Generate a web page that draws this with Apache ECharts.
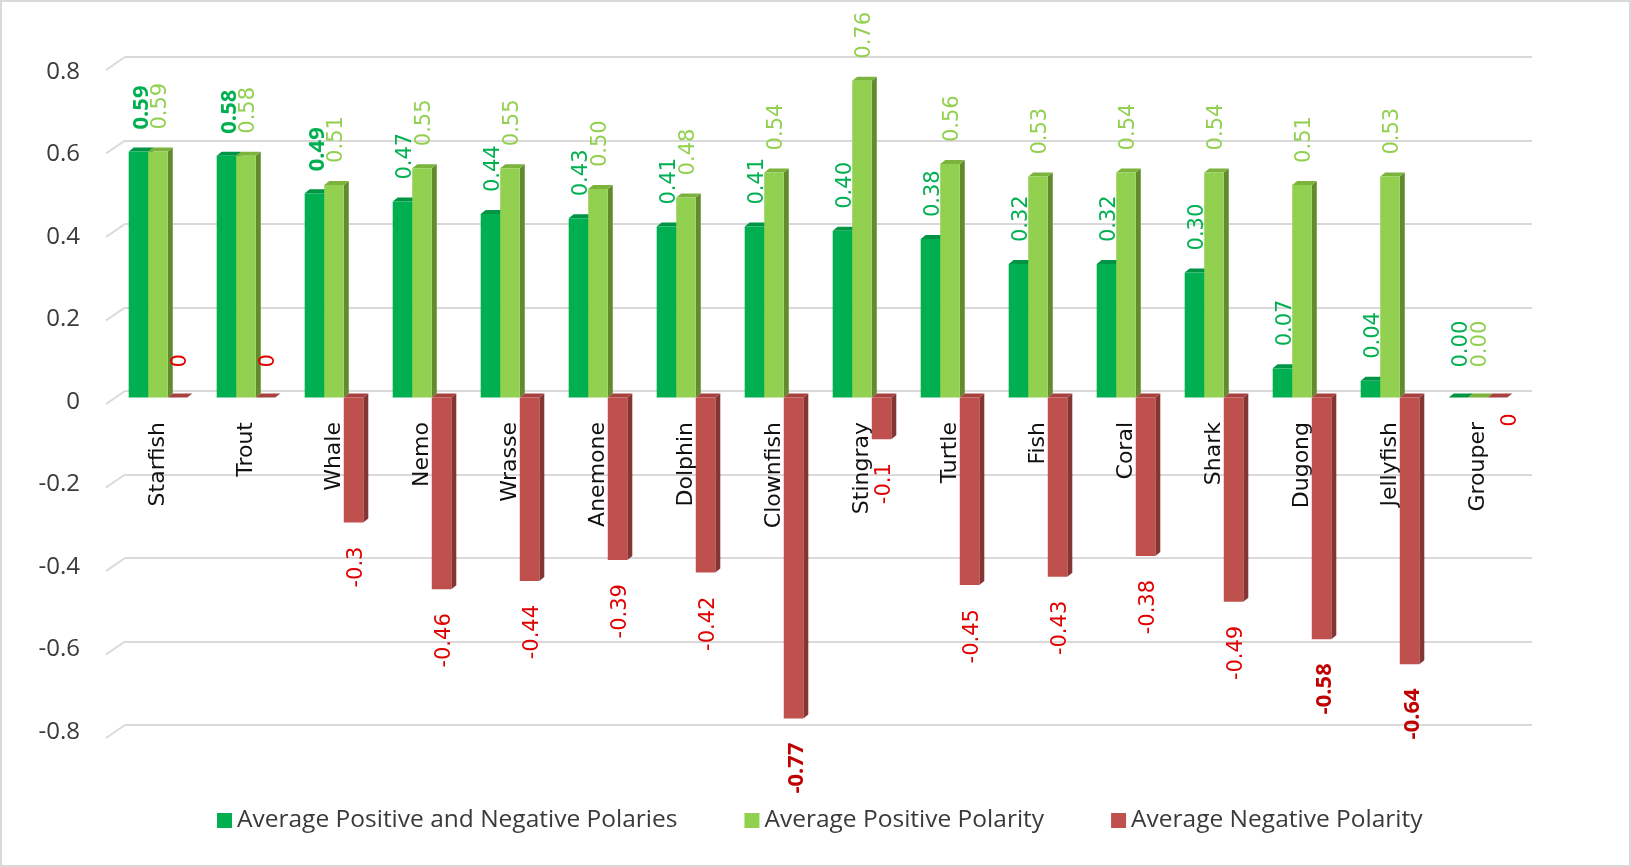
<!DOCTYPE html>
<html><head><meta charset="utf-8">
<script src="https://cdn.jsdelivr.net/npm/echarts@6/dist/echarts.min.js"></script>
<style>
html,body{margin:0;padding:0;background:#fff;}
#c{width:1631px;height:867px;position:absolute;left:0;top:0;}
#f{position:absolute;left:0;top:0;width:1631px;height:867px;box-sizing:border-box;border:2px solid #d9d9d9;pointer-events:none;}
</style>
</head><body><div id="c"></div><div id="f"></div>
<script>
// ---- data ----
const categories = ['Starfish','Trout','Whale','Nemo','Wrasse','Anemone','Dolphin','Clownfish','Stingray','Turtle','Fish','Coral','Shark','Dugong','Jellyfish','Grouper'];
const seriesNames = ['Average Positive and Negative Polaries','Average Positive Polarity','Average Negative Polarity'];
const avgBoth = [0.59,0.58,0.49,0.47,0.44,0.43,0.41,0.41,0.40,0.38,0.32,0.32,0.30,0.07,0.04,0.00];
const avgPos  = [0.59,0.58,0.51,0.55,0.55,0.50,0.48,0.54,0.76,0.56,0.53,0.54,0.54,0.51,0.53,0.00];
// Grouper's negative polarity is a negative zero (label sits below the axis)
const avgNeg  = [0,0,-0.3,-0.46,-0.44,-0.39,-0.42,-0.77,-0.1,-0.45,-0.43,-0.38,-0.49,-0.58,-0.64,-0];
const yTicks  = [-0.8,-0.6,-0.4,-0.2,0,0.2,0.4,0.6,0.8];

// ---- style ----
const boldIdx = [[0,1,2],[],[7,13,14]];
const palettes = [
  {front:'#00b050', side:'#007d39', top:'#009544', label:'#00b050', fmt:v=>v.toFixed(2)},
  {front:'#92d050', side:'#648a2e', top:'#7bb33c', label:'#92d050', fmt:v=>v.toFixed(2)},
  {front:'#c0504d', side:'#853634', top:'#a64340', label:'#e00000', boldLabel:'#c00000', fmt:v=>String(v)}
];
const allData = [avgBoth, avgPos, avgNeg];

function makeRender(k){
  const pal = palettes[k];
  const raw = allData[k];
  return function(params, api){
    const idx = api.value(0);
    const v = raw[params.dataIndex];
    const c = api.coord([idx, v]);
    const z = api.coord([idx, 0]);
    const band = api.size([1,0])[0];
    const bw = band*0.222;
    const x0 = c[0] - 1.5*bw + k*bw;
    const yT = Math.min(c[1], z[1]), yB = Math.max(c[1], z[1]);
    const dx = 5, dy = 4;
    const children = [
      {type:'polygon', shape:{points:[[x0+bw,yT],[x0+bw+dx,yT-dy],[x0+bw+dx,yB-dy],[x0+bw,yB]]}, style:{fill:pal.side}},
      {type:'polygon', shape:{points:[[x0,yT],[x0+dx,yT-dy],[x0+bw+dx,yT-dy],[x0+bw,yT]]}, style:{fill:pal.top}}
    ];
    if (yB - yT > 0.5) children.push({type:'rect', shape:{x:x0,y:yT,width:bw,height:yB-yT}, style:{fill:pal.front}});
    const bold = boldIdx[k].indexOf(params.dataIndex) >= 0;
    const neg = v < 0 || Object.is(v, -0);
    const lx = x0 + bw/2 + 3 + (Object.is(v, -0) ? 10 : 0);
    const ly = neg ? (yB + (v === 0 ? 16 : 24)) : (yT - (v === 0 ? 30 : 22));
    children.push({type:'text', x:lx, y:ly, rotation:Math.PI/2,
      style:{text:pal.fmt(v), fill: bold && pal.boldLabel ? pal.boldLabel : pal.label,
        fontSize: bold ? 22 : 21, fontWeight: bold ? 'bold' : 'normal',
        fontFamily: bold ? '"Open Sans", sans-serif' : '"DejaVu Sans", sans-serif',
        align: neg ? 'right' : 'left', verticalAlign:'middle'}});
    return {type:'group', children};
  };
}

const chart = echarts.init(document.getElementById('c'), null, {renderer:'canvas'});
const option = {
  animation:false,
  backgroundColor:'#fff',
  grid:[
    {left:114, width:1408, top:64, height:667},
    {left:125, right:99, top:57, height:668},
    {left:107, width:1400, top:72, height:660},
    {left:114, width:1408, top:64, height:334}
  ],
  xAxis:[
    {gridIndex:0, type:'category', data:categories, show:false},
    {gridIndex:1, type:'value', min:0, max:1, show:false},
    {gridIndex:2, type:'value', min:0, max:1, show:false},
    {gridIndex:3, type:'category', data:categories, position:'bottom',
      axisLine:{show:false}, axisTick:{show:false},
      axisLabel:{rotate:90, margin:24, fontSize:22, fontFamily:'"DejaVu Sans", sans-serif', color:'#111'}}
  ],
  yAxis:[
    {gridIndex:0, type:'value', min:-0.8, max:0.8, interval:0.2, show:false, splitLine:{show:false}},
    {gridIndex:1, type:'value', min:-0.8, max:0.8, interval:0.2,
      axisLine:{show:false}, axisTick:{show:false}, axisLabel:{show:false},
      splitLine:{show:true, lineStyle:{color:'#d9d9d9', width:2}}},
    {gridIndex:2, type:'value', min:-0.8, max:0.8, interval:0.2,
      axisLine:{show:false}, axisTick:{show:false}, splitLine:{show:false},
      axisLabel:{margin:27, fontSize:24, fontFamily:'"Open Sans", sans-serif', color:'#3a3a3a',
        formatter:v=>String(Math.round(v*10)/10)}},
    {gridIndex:3, type:'value', min:0, max:0.8, show:false}
  ],
  legend:{
    left:212, top:803, itemWidth:15, itemHeight:15, itemGap:67, icon:'rect',
    textStyle:{fontSize:24.5, fontFamily:'"Open Sans", sans-serif', color:'#3a3a3a'},
    data:seriesNames
  },
  series:[
    {type:'custom', name:'diag', xAxisIndex:1, yAxisIndex:1, silent:true, clip:false,
      data:yTicks.map(v=>[0,v]),
      renderItem:function(params, api){
        const p = api.coord([0, api.value(1)]);
        return {type:'line', shape:{x1:p[0], y1:p[1], x2:p[0]-19, y2:p[1]+13},
          style:{stroke:'#d9d9d9', lineWidth:2}};
      }},
  ].concat(allData.map((arr,k)=>({
    type:'custom', name:seriesNames[k], xAxisIndex:0, yAxisIndex:0, clip:false,
    itemStyle:{color:palettes[k].front},
    encode:{x:0, y:1},
    data:arr.map((v,i)=>[i,v]),
    renderItem:makeRender(k)
  })))
};
chart.setOption(option);
</script>
</body></html>
